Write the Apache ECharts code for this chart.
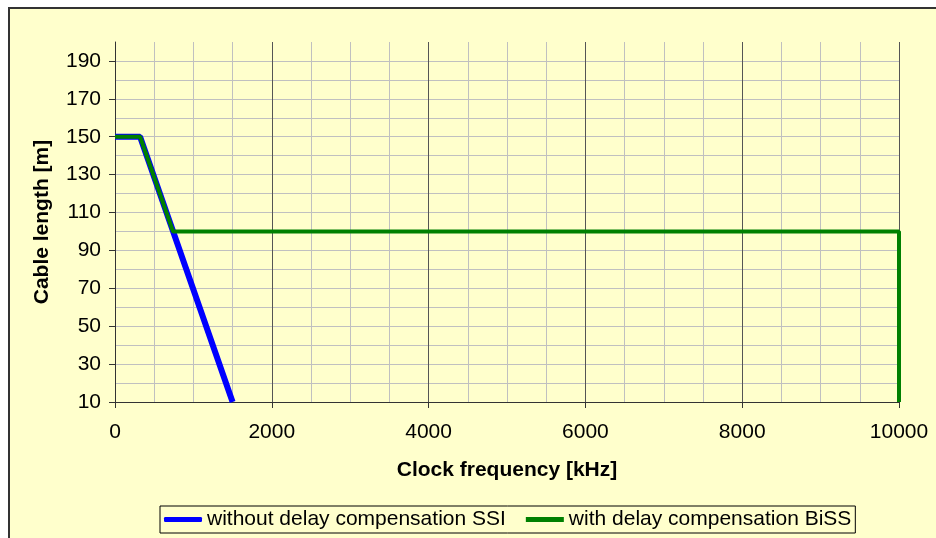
<!DOCTYPE html>
<html>
<head>
<meta charset="utf-8">
<script src="https://cdn.jsdelivr.net/npm/echarts@6/dist/echarts.min.js"></script>
<style>
  html, body { margin: 0; padding: 0; background: #fff; }
  #main { width: 936px; height: 538px; }
</style>
</head>
<body>
<div id="main"></div>
<script>
// values (kHz, m)
var ssiFreq = [0, 320, 1500];
var ssiLength = [150, 150, 10];
var bissFreq = [0, 320, 740, 10000, 10000];
var bissLength = [150, 150, 100, 100, 10];
var seriesNames = ['without delay compensation SSI', 'with delay compensation BiSS'];
// labelled ticks
var xTicks = [0, 2000, 4000, 6000, 8000, 10000];
var yTicks = [10, 30, 50, 70, 90, 110, 130, 150, 170, 190];

function pairs(xs, ys) {
    var out = [];
    for (var i = 0; i < xs.length; i++) out.push([xs[i], ys[i]]);
    return out;
}

var myChart = echarts.init(document.getElementById('main'));

var font = { fontSize: 21, color: '#000' };

var option = {
    backgroundColor: '#ffffff',
    textStyle: { fontFamily: 'Liberation Sans, Arial, sans-serif' },
    animation: false,
    graphic: [{
        type: 'rect',
        z: -10,
        shape: { x: 9, y: 8, width: 940, height: 540 },
        style: { fill: '#FFFFCC', stroke: '#333333', lineWidth: 2 }
    }],
    grid: { left: 115, right: 37, top: 42, bottom: 136 },
    legend: {
        left: 160,
        top: 506,
        data: [
            { name: seriesNames[0], icon: 'roundRect' },
            { name: seriesNames[1], icon: 'rect' }
        ],
        itemWidth: 38,
        itemHeight: 5,
        itemGap: 20,
        padding: [3, 4, 3, 4],
        borderColor: '#000',
        borderWidth: 1,
        backgroundColor: '#FFFFCC',
        textStyle: { fontSize: 21, color: '#000' }
    },
    xAxis: [
        {   // minor grid every 500
            type: 'value', min: 0, max: 10000, interval: 500,
            axisLine: { show: false },
            axisTick: { show: false },
            axisLabel: { show: false },
            splitLine: { show: true, lineStyle: { color: '#c0c0c0', width: 1 } }
        },
        {   // labelled axis, dark grid every 2000
            type: 'value', min: 0, max: 10000, interval: 2000,
            position: 'bottom',
            name: 'Clock frequency [kHz]',
            nameLocation: 'middle',
            nameGap: 58,
            nameTextStyle: { fontSize: 21, fontWeight: 'bold', color: '#000' },
            axisLine: { show: true, lineStyle: { color: '#333', width: 1 } },
            axisTick: { show: true, length: 6, lineStyle: { color: '#333' } },
            axisLabel: {
                customValues: xTicks, fontSize: 21, color: '#000', margin: 20,
                formatter: function (v) { return String(v); }
            },
            splitLine: { show: true, lineStyle: { color: '#555555', width: 1 } }
        }
    ],
    yAxis: [
        {   // grid every 10
            type: 'value', min: 10, max: 200, interval: 10,
            axisLine: { show: false },
            axisTick: { show: false },
            axisLabel: { show: false },
            splitLine: { show: true, showMaxLine: false, lineStyle: { color: '#c0c0c0', width: 1 } }
        },
        {   // labelled axis every 20
            type: 'value', min: 10, max: 200,
            position: 'left',
            name: 'Cable length [m]',
            nameLocation: 'middle',
            nameGap: 62,
            nameTextStyle: { fontSize: 21, fontWeight: 'bold', color: '#000' },
            axisLine: { show: true, lineStyle: { color: '#333', width: 1 } },
            axisTick: { show: true, customValues: yTicks, length: 6, lineStyle: { color: '#333' } },
            axisLabel: { customValues: yTicks, fontSize: 21, color: '#000', margin: 14 },
            splitLine: { show: false }
        }
    ],
    series: [
        {
            name: seriesNames[0],
            type: 'line',
            data: pairs(ssiFreq, ssiLength),
            showSymbol: false,
            symbol: 'none',
            color: '#0000FF',
            lineStyle: { color: '#0000FF', width: 6 }
        },
        {
            name: seriesNames[1],
            type: 'line',
            data: pairs(bissFreq, bissLength),
            showSymbol: false,
            symbol: 'none',
            color: '#008000',
            lineStyle: { color: '#008000', width: 4 }
        }
    ]
};
myChart.setOption(option);
</script>
</body>
</html>
